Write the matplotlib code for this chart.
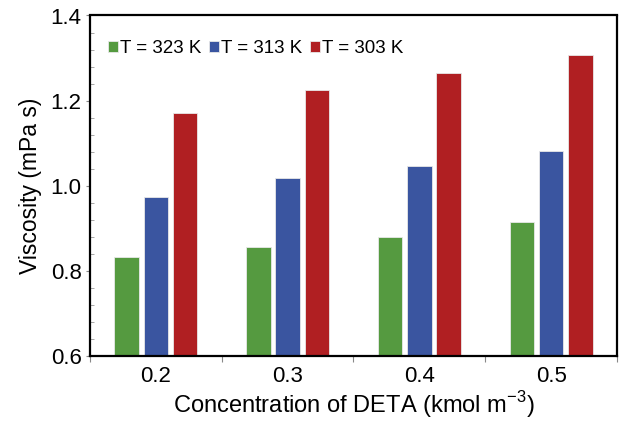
import matplotlib
matplotlib.use("Agg")
import matplotlib.pyplot as plt
from matplotlib.ticker import MultipleLocator, FixedLocator, NullFormatter
import numpy as np

plt.rcParams['font.family'] = ['Liberation Sans', 'DejaVu Sans']

# data
conc = [0.2, 0.3, 0.4, 0.5]
visc_323 = [0.833, 0.857, 0.880, 0.915]
visc_313 = [0.974, 1.019, 1.047, 1.082]
visc_303 = [1.172, 1.224, 1.266, 1.307]
labels = ["T = 323 K", "T = 313 K", "T = 303 K"]
colors = ["#559A40", "#3A55A0", "#B01F22"]

fig = plt.figure(figsize=(6.21, 4.23), dpi=100)
ax = fig.add_axes([90 / 621, 1 - 356 / 423, 527 / 621, 340.5 / 423])

x = np.array(conc)
step = 0.0222
width = 0.0185
series = [visc_323, visc_313, visc_303]
for i in range(3):
    ax.bar(x + (i - 1) * step, np.array(series[i]) - 0.6, bottom=0.6,
           width=width, color=colors[i], edgecolor="#e8e8e8", linewidth=0.6,
           label=labels[i])

ax.set_xlim(0.15, 0.55)
ax.set_ylim(0.6, 1.4)

ax.xaxis.set_major_locator(FixedLocator([0.15, 0.25, 0.35, 0.45, 0.55]))
ax.xaxis.set_major_formatter(NullFormatter())
ax.xaxis.set_minor_locator(FixedLocator(conc))
ax.set_xticklabels(["0.2", "0.3", "0.4", "0.5"], minor=True)
ax.tick_params(axis="x", which="major", direction="out", length=4, width=0.8, color="#888888")
ax.tick_params(axis="x", which="minor", length=0, labelsize=16, pad=7)

ax.yaxis.set_major_locator(MultipleLocator(0.2))
ax.yaxis.set_minor_locator(MultipleLocator(0.04))
ax.set_yticklabels([f"{v:.1f}" for v in ax.get_yticks()])
ax.tick_params(axis="y", which="major", direction="out", length=3, width=0.8, color="#888888", labelsize=16, pad=3)
ax.tick_params(axis="y", which="minor", direction="in", length=3, width=0.6, color="#999999")

for s in ax.spines.values():
    s.set_linewidth(1.6)
    s.set_color("black")

ax.set_ylabel("Viscosity (mPa s)", fontsize=16.5, labelpad=6)
ax.set_xlabel("Concentration of DETA (kmol m$^{\\mathregular{-3}}$)", fontsize=17, labelpad=2)

ax.legend(loc="upper left", ncol=3, frameon=False, fontsize=13.5,
          handlelength=0.55, handleheight=0.55, handletextpad=0.1,
          columnspacing=0.4, bbox_to_anchor=(0.02, 0.95), borderaxespad=0)

plt.savefig("out.png", dpi=100)
